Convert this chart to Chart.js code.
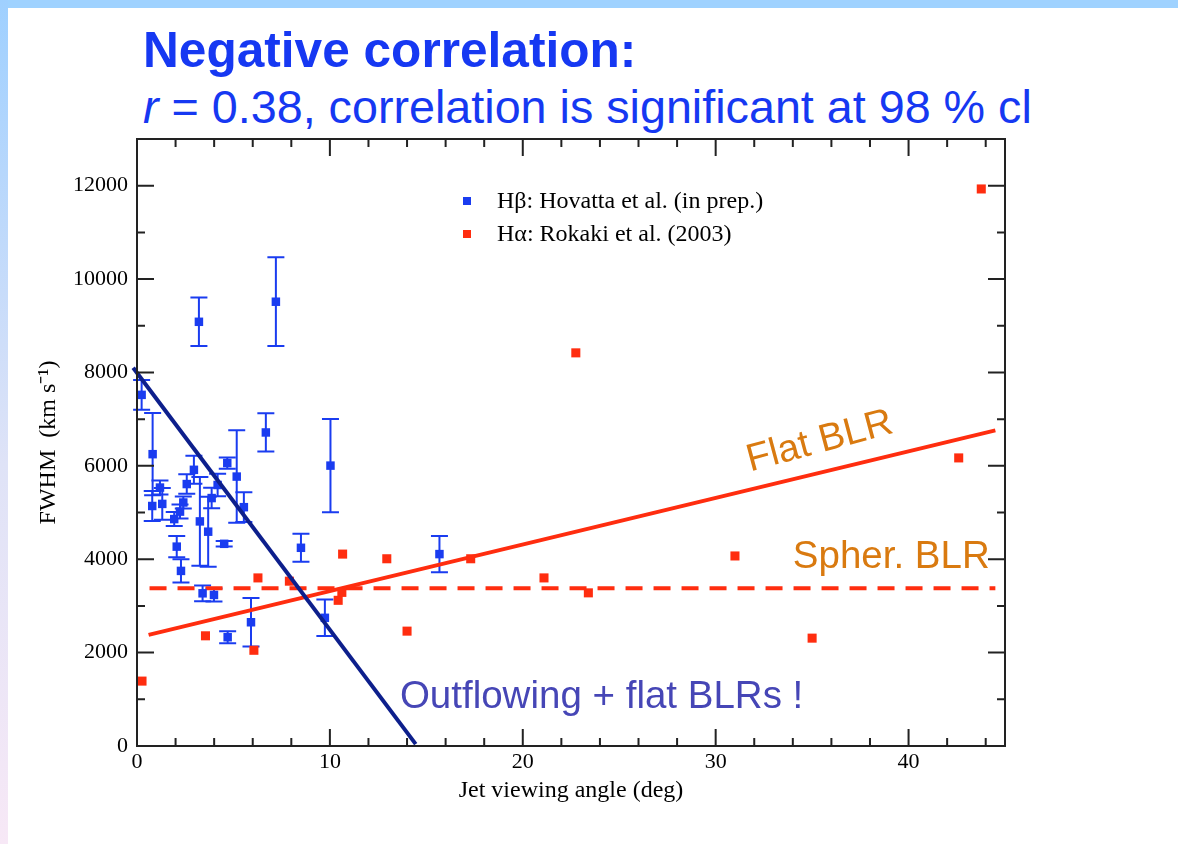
<!DOCTYPE html>
<html><head><meta charset="utf-8">
<script src="https://cdn.jsdelivr.net/npm/chart.js@4.4.1/dist/chart.umd.min.js"></script>
<style>
html,body{margin:0;padding:0;background:#fff;width:1178px;height:844px;overflow:hidden;}
#topbar{position:absolute;left:0;top:0;width:1178px;height:8px;background:#9fd2ff;}
#leftbar{position:absolute;left:0;top:0;width:8px;height:844px;background:linear-gradient(#9fd0ff,#dfe3f7 55%,#f7e8f6);}
.t{position:absolute;white-space:nowrap;color:#1638f2;font-family:"Liberation Sans",Arial,sans-serif;}
#t1{left:143px;top:26px;font-size:49.6px;line-height:49px;font-weight:bold;}
#t2{left:143px;top:84px;font-size:46.7px;line-height:46.5px;}
#c{position:absolute;left:0;top:0;}
</style></head>
<body>
<div id="topbar"></div><div id="leftbar"></div>
<div class="t" id="t1">Negative correlation:</div>
<div class="t" id="t2"><i>r</i> = 0.38, correlation is significant at 98 % cl</div>
<canvas id="c" width="1178" height="844"></canvas>
<script>
// ---- data ----
const hbLabel = "H\u03B2: Hovatta et al. (in prep.)";
const haLabel = "H\u03B1: Rokaki et al. (2003)";
const hbX = [0.24,0.81,0.79,1.19,1.31,1.93,2.06,2.28,2.23,2.40,2.58,2.95,3.21,3.26,3.40,3.69,3.87,3.99,4.18,4.52,4.68,4.70,5.17,5.54,5.91,6.68,7.20,8.50,9.74,10.03,15.68];
const hbY = [7520,6250,5140,5535,5185,4860,4270,3750,5020,5215,5610,5915,9085,4810,3270,4590,5310,3235,5590,4330,6060,2330,5770,5115,2650,6715,9515,4245,2745,6005,4110];
const hbErr = [320,880,320,150,340,150,230,250,150,130,210,300,520,950,170,750,220,140,240,60,120,130,990,320,520,410,950,300,390,1000,390];
const haX = [0.26,3.55,6.06,6.27,7.90,10.43,10.62,10.66,12.95,14.0,17.3,21.1,22.75,23.4,31.0,35.0,42.6,43.77];
const haY = [1390,2360,2050,3600,3530,3120,3290,4110,4010,2460,4010,3600,8420,3280,4070,2310,6170,11930];
const flatX = [0.6,44.5], flatY = [2380,6760];
const spherX = [0.65,44.5], spherY = [3380,3380];
const outX = [-0.2,14.45], outY = [8100,40];
const xTicks = [0,10,20,30,40];
const yTicks = [0,2000,4000,6000,8000,10000,12000];
const xTitle = "Jet viewing angle (deg)";
const yTitle = "FWHM  (km s\u207B\u00B9)";
const annFlat = "Flat BLR", annSpher = "Spher. BLR", annOut = "Outflowing + flat BLRs !";

const BLUE = "#1a3cf0", RED = "#ff2d0f", NAVY = "#0d1f8c", ORANGE = "#d97a10", SLATE = "#4646b6";
const SERIF = "'Liberation Serif','Times New Roman',serif";
const SANS = "'Liberation Sans',Arial,sans-serif";
const pts = (xs, ys) => xs.map((x, i) => ({x, y: ys[i]}));

const decor = {
  id: 'decor',
  beforeDatasetsDraw(chart) {
    const {ctx, scales: {x, y}} = chart;
    ctx.save();
    ctx.strokeStyle = BLUE; ctx.lineWidth = 2;
    hbX.forEach((v, i) => {
      const px = x.getPixelForValue(v);
      const y1 = y.getPixelForValue(hbY[i] + hbErr[i]);
      const y2 = y.getPixelForValue(hbY[i] - hbErr[i]);
      ctx.beginPath();
      ctx.moveTo(px, y1); ctx.lineTo(px, y2);
      ctx.moveTo(px - 8.5, y1); ctx.lineTo(px + 8.5, y1);
      ctx.moveTo(px - 8.5, y2); ctx.lineTo(px + 8.5, y2);
      ctx.stroke();
    });
    ctx.restore();
  },
  afterDatasetsDraw(chart) {
    const {ctx, chartArea: a, scales: {x, y}} = chart;
    ctx.save();
    ctx.strokeStyle = "#222"; ctx.lineWidth = 2;
    ctx.strokeRect(a.left, a.top, a.right - a.left, a.bottom - a.top);
    ctx.beginPath();
    for (let v = 0; v <= 45; v += 2) {
      const L = (v % 10 === 0) ? 17 : 8;
      const px = x.getPixelForValue(v);
      ctx.moveTo(px, a.bottom); ctx.lineTo(px, a.bottom - L);
      ctx.moveTo(px, a.top); ctx.lineTo(px, a.top + L);
    }
    for (let v = 0; v <= 13000; v += 1000) {
      const L = (v % 2000 === 0) ? 17 : 8;
      const py = y.getPixelForValue(v);
      ctx.moveTo(a.left, py); ctx.lineTo(a.left + L, py);
      ctx.moveTo(a.right, py); ctx.lineTo(a.right - L, py);
    }
    ctx.stroke();
    // legend
    ctx.textBaseline = 'middle'; ctx.textAlign = 'left';
    ctx.font = "24px " + SERIF;
    const ds = chart.data.datasets;
    [[0, 201], [1, 234]].forEach(([k, yy]) => {
      ctx.fillStyle = ds[k].backgroundColor;
      ctx.fillRect(463, yy - 4, 8, 8);
      ctx.fillStyle = "#000";
      ctx.fillText(ds[k].label, 497, yy + 1);
    });
    // annotations
    ctx.font = "38.5px " + SANS;
    ctx.fillStyle = ORANGE;
    ctx.save();
    ctx.translate(x.getPixelForValue(35.4), y.getPixelForValue(6515));
    ctx.rotate(-15 * Math.PI / 180);
    ctx.textAlign = 'center';
    ctx.fillText(annFlat, 0, 0);
    ctx.restore();
    ctx.textAlign = 'left';
    ctx.fillText(annSpher, x.getPixelForValue(34.0), y.getPixelForValue(4050));
    ctx.fillStyle = SLATE;
    ctx.fillText(annOut, x.getPixelForValue(13.63), y.getPixelForValue(1050));
    ctx.restore();
  }
};

new Chart(document.getElementById('c'), {
  type: 'scatter',
  data: {datasets: [
    {label: hbLabel, data: pts(hbX, hbY), backgroundColor: BLUE, borderColor: BLUE, borderWidth: 0, pointStyle: 'rect', pointRadius: 6, order: 2},
    {label: haLabel, data: pts(haX, haY), backgroundColor: RED, borderColor: RED, borderWidth: 0, pointStyle: 'rect', pointRadius: 6.4, order: 3},
    {label: 'flat', data: pts(flatX, flatY), showLine: true, borderColor: RED, backgroundColor: RED, borderWidth: 4, pointRadius: 0, order: 4},
    {label: 'spher', data: pts(spherX, spherY), showLine: true, borderColor: RED, backgroundColor: RED, borderWidth: 4, borderDash: [17, 11], pointRadius: 0, order: 4},
    {label: 'out', data: pts(outX, outY), showLine: true, borderColor: NAVY, backgroundColor: NAVY, borderWidth: 4, pointRadius: 0, order: 0, clip: false}
  ]},
  options: {
    responsive: false, animation: false, devicePixelRatio: 1,
    layout: {padding: {left: 0, top: 139, right: 173, bottom: 0}},
    plugins: {legend: {display: false}, tooltip: {enabled: false}},
    scales: {
      x: {type: 'linear', min: 0, max: 45,
        afterBuildTicks(s) { s.ticks = xTicks.map(v => ({value: v})); },
        ticks: {font: {family: SERIF, size: 22}, color: '#000', padding: 3, maxRotation: 0, autoSkip: false, callback: v => String(v)},
        grid: {display: false, drawTicks: false}, border: {display: false},
        title: {display: true, text: xTitle, font: {family: SERIF, size: 24}, color: '#000', padding: {top: 0, bottom: 39}},
        afterFit(s) { s.height = 98; }
      },
      y: {type: 'linear', min: 0, max: 13000,
        afterBuildTicks(s) { s.ticks = yTicks.map(v => ({value: v})); },
        ticks: {font: {family: SERIF, size: 22}, color: '#000', padding: 9, autoSkip: false, callback: v => String(v)},
        grid: {display: false, drawTicks: false}, border: {display: false},
        title: {display: true, text: yTitle, font: {family: SERIF, size: 24}, color: '#000', padding: {top: 34, bottom: 0}},
        afterFit(s) { s.width = 137; }
      }
    }
  },
  plugins: [decor]
});
</script>
</body></html>
